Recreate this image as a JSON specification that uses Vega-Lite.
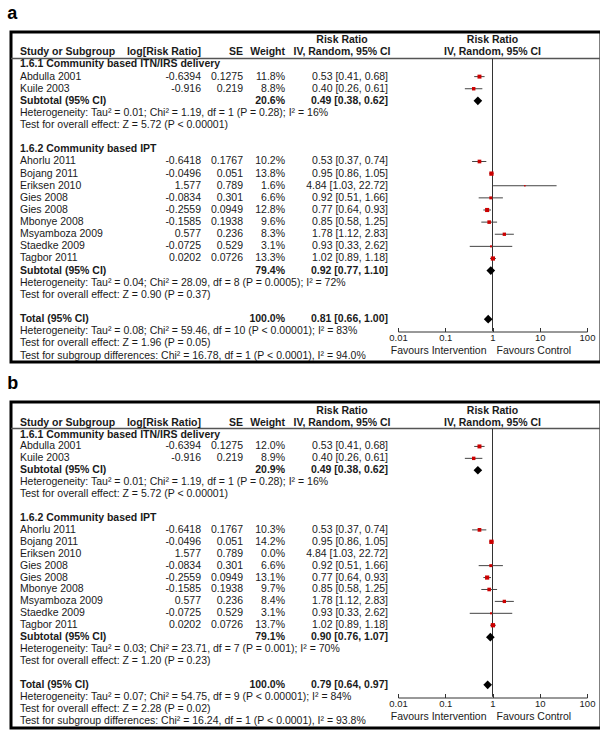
{
  "$schema": "https://vega.github.io/schema/vega-lite/v6.json",
  "padding": {"left": 5, "top": 3, "right": 3, "bottom": 0},
  "background": "white",
  "config": {
    "view": {"stroke": "black", "strokeWidth": 3},
    "text": {"font": "Liberation Sans", "fontSize": 10.5, "color": "#1a1a1a", "baseline": "middle"},
    "concat": {"spacing": 9},
    "title": {"font": "Liberation Sans", "fontSize": 18, "fontWeight": "bold", "anchor": "start", "color": "black", "offset": 9, "dx": -3}
  },
  "datasets": {
    "tbl": [
      {"p":"a","r":-1,"c":4,"t":"Risk Ratio","k":"h"},
      {"p":"a","r":-1,"c":6,"t":"Risk Ratio","k":"h"},
      {"p":"a","r":0,"c":0,"t":"Study or Subgroup","k":"h"},
      {"p":"a","r":0,"c":1,"t":"log[Risk Ratio]","k":"h"},
      {"p":"a","r":0,"c":2,"t":"SE","k":"h"},
      {"p":"a","r":0,"c":3,"t":"Weight","k":"h"},
      {"p":"a","r":0,"c":4,"t":"IV, Random, 95% CI","k":"h"},
      {"p":"a","r":0,"c":6,"t":"IV, Random, 95% CI","k":"h"},
      {"p":"a","r":1,"c":0,"t":"1.6.1 Community based ITN/IRS delivery","k":"g"},
      {"p":"a","r":2,"c":0,"t":"Abdulla 2001","k":"s"},
      {"p":"a","r":2,"c":1,"t":"-0.6394","k":"s"},
      {"p":"a","r":2,"c":2,"t":"0.1275","k":"s"},
      {"p":"a","r":2,"c":3,"t":"11.8%","k":"s"},
      {"p":"a","r":2,"c":5,"t":"0.53 [0.41, 0.68]","k":"s"},
      {"p":"a","r":3,"c":0,"t":"Kuile 2003","k":"s"},
      {"p":"a","r":3,"c":1,"t":"-0.916","k":"s"},
      {"p":"a","r":3,"c":2,"t":"0.219","k":"s"},
      {"p":"a","r":3,"c":3,"t":"8.8%","k":"s"},
      {"p":"a","r":3,"c":5,"t":"0.40 [0.26, 0.61]","k":"s"},
      {"p":"a","r":4,"c":0,"t":"Subtotal (95% CI)","k":"u"},
      {"p":"a","r":4,"c":3,"t":"20.6%","k":"u"},
      {"p":"a","r":4,"c":5,"t":"0.49 [0.38, 0.62]","k":"u"},
      {"p":"a","r":5,"c":0,"t":"Heterogeneity: Tau² = 0.01; Chi² = 1.19, df = 1 (P = 0.28); I² = 16%","k":"n"},
      {"p":"a","r":6,"c":0,"t":"Test for overall effect: Z = 5.72 (P < 0.00001)","k":"n"},
      {"p":"a","r":8,"c":0,"t":"1.6.2 Community based IPT","k":"g"},
      {"p":"a","r":9,"c":0,"t":"Ahorlu 2011","k":"s"},
      {"p":"a","r":9,"c":1,"t":"-0.6418","k":"s"},
      {"p":"a","r":9,"c":2,"t":"0.1767","k":"s"},
      {"p":"a","r":9,"c":3,"t":"10.2%","k":"s"},
      {"p":"a","r":9,"c":5,"t":"0.53 [0.37, 0.74]","k":"s"},
      {"p":"a","r":10,"c":0,"t":"Bojang 2011","k":"s"},
      {"p":"a","r":10,"c":1,"t":"-0.0496","k":"s"},
      {"p":"a","r":10,"c":2,"t":"0.051","k":"s"},
      {"p":"a","r":10,"c":3,"t":"13.8%","k":"s"},
      {"p":"a","r":10,"c":5,"t":"0.95 [0.86, 1.05]","k":"s"},
      {"p":"a","r":11,"c":0,"t":"Eriksen 2010","k":"s"},
      {"p":"a","r":11,"c":1,"t":"1.577","k":"s"},
      {"p":"a","r":11,"c":2,"t":"0.789","k":"s"},
      {"p":"a","r":11,"c":3,"t":"1.6%","k":"s"},
      {"p":"a","r":11,"c":5,"t":"4.84 [1.03, 22.72]","k":"s"},
      {"p":"a","r":12,"c":0,"t":"Gies 2008","k":"s"},
      {"p":"a","r":12,"c":1,"t":"-0.0834","k":"s"},
      {"p":"a","r":12,"c":2,"t":"0.301","k":"s"},
      {"p":"a","r":12,"c":3,"t":"6.6%","k":"s"},
      {"p":"a","r":12,"c":5,"t":"0.92 [0.51, 1.66]","k":"s"},
      {"p":"a","r":13,"c":0,"t":"Gies 2008","k":"s"},
      {"p":"a","r":13,"c":1,"t":"-0.2559","k":"s"},
      {"p":"a","r":13,"c":2,"t":"0.0949","k":"s"},
      {"p":"a","r":13,"c":3,"t":"12.8%","k":"s"},
      {"p":"a","r":13,"c":5,"t":"0.77 [0.64, 0.93]","k":"s"},
      {"p":"a","r":14,"c":0,"t":"Mbonye 2008","k":"s"},
      {"p":"a","r":14,"c":1,"t":"-0.1585","k":"s"},
      {"p":"a","r":14,"c":2,"t":"0.1938","k":"s"},
      {"p":"a","r":14,"c":3,"t":"9.6%","k":"s"},
      {"p":"a","r":14,"c":5,"t":"0.85 [0.58, 1.25]","k":"s"},
      {"p":"a","r":15,"c":0,"t":"Msyamboza 2009","k":"s"},
      {"p":"a","r":15,"c":1,"t":"0.577","k":"s"},
      {"p":"a","r":15,"c":2,"t":"0.236","k":"s"},
      {"p":"a","r":15,"c":3,"t":"8.3%","k":"s"},
      {"p":"a","r":15,"c":5,"t":"1.78 [1.12, 2.83]","k":"s"},
      {"p":"a","r":16,"c":0,"t":"Staedke 2009","k":"s"},
      {"p":"a","r":16,"c":1,"t":"-0.0725","k":"s"},
      {"p":"a","r":16,"c":2,"t":"0.529","k":"s"},
      {"p":"a","r":16,"c":3,"t":"3.1%","k":"s"},
      {"p":"a","r":16,"c":5,"t":"0.93 [0.33, 2.62]","k":"s"},
      {"p":"a","r":17,"c":0,"t":"Tagbor 2011","k":"s"},
      {"p":"a","r":17,"c":1,"t":"0.0202","k":"s"},
      {"p":"a","r":17,"c":2,"t":"0.0726","k":"s"},
      {"p":"a","r":17,"c":3,"t":"13.3%","k":"s"},
      {"p":"a","r":17,"c":5,"t":"1.02 [0.89, 1.18]","k":"s"},
      {"p":"a","r":18,"c":0,"t":"Subtotal (95% CI)","k":"u"},
      {"p":"a","r":18,"c":3,"t":"79.4%","k":"u"},
      {"p":"a","r":18,"c":5,"t":"0.92 [0.77, 1.10]","k":"u"},
      {"p":"a","r":19,"c":0,"t":"Heterogeneity: Tau² = 0.04; Chi² = 28.09, df = 8 (P = 0.0005); I² = 72%","k":"n"},
      {"p":"a","r":20,"c":0,"t":"Test for overall effect: Z = 0.90 (P = 0.37)","k":"n"},
      {"p":"a","r":22,"c":0,"t":"Total (95% CI)","k":"u"},
      {"p":"a","r":22,"c":3,"t":"100.0%","k":"u"},
      {"p":"a","r":22,"c":5,"t":"0.81 [0.66, 1.00]","k":"u"},
      {"p":"a","r":23,"c":0,"t":"Heterogeneity: Tau² = 0.08; Chi² = 59.46, df = 10 (P < 0.00001); I² = 83%","k":"n"},
      {"p":"a","r":24,"c":0,"t":"Test for overall effect: Z = 1.96 (P = 0.05)","k":"n"},
      {"p":"a","r":25,"c":0,"t":"Test for subgroup differences: Chi² = 16.78, df = 1 (P < 0.0001), I² = 94.0%","k":"n"},
      {"p":"a","c":7,"t":"Favours Intervention","k":"f"},
      {"p":"a","c":8,"t":"Favours Control","k":"f"},

      {"p":"b","r":-1,"c":4,"t":"Risk Ratio","k":"h"},
      {"p":"b","r":-1,"c":6,"t":"Risk Ratio","k":"h"},
      {"p":"b","r":0,"c":0,"t":"Study or Subgroup","k":"h"},
      {"p":"b","r":0,"c":1,"t":"log[Risk Ratio]","k":"h"},
      {"p":"b","r":0,"c":2,"t":"SE","k":"h"},
      {"p":"b","r":0,"c":3,"t":"Weight","k":"h"},
      {"p":"b","r":0,"c":4,"t":"IV, Random, 95% CI","k":"h"},
      {"p":"b","r":0,"c":6,"t":"IV, Random, 95% CI","k":"h"},
      {"p":"b","r":1,"c":0,"t":"1.6.1 Community based ITN/IRS delivery","k":"g"},
      {"p":"b","r":2,"c":0,"t":"Abdulla 2001","k":"s"},
      {"p":"b","r":2,"c":1,"t":"-0.6394","k":"s"},
      {"p":"b","r":2,"c":2,"t":"0.1275","k":"s"},
      {"p":"b","r":2,"c":3,"t":"12.0%","k":"s"},
      {"p":"b","r":2,"c":5,"t":"0.53 [0.41, 0.68]","k":"s"},
      {"p":"b","r":3,"c":0,"t":"Kuile 2003","k":"s"},
      {"p":"b","r":3,"c":1,"t":"-0.916","k":"s"},
      {"p":"b","r":3,"c":2,"t":"0.219","k":"s"},
      {"p":"b","r":3,"c":3,"t":"8.9%","k":"s"},
      {"p":"b","r":3,"c":5,"t":"0.40 [0.26, 0.61]","k":"s"},
      {"p":"b","r":4,"c":0,"t":"Subtotal (95% CI)","k":"u"},
      {"p":"b","r":4,"c":3,"t":"20.9%","k":"u"},
      {"p":"b","r":4,"c":5,"t":"0.49 [0.38, 0.62]","k":"u"},
      {"p":"b","r":5,"c":0,"t":"Heterogeneity: Tau² = 0.01; Chi² = 1.19, df = 1 (P = 0.28); I² = 16%","k":"n"},
      {"p":"b","r":6,"c":0,"t":"Test for overall effect: Z = 5.72 (P < 0.00001)","k":"n"},
      {"p":"b","r":8,"c":0,"t":"1.6.2 Community based IPT","k":"g"},
      {"p":"b","r":9,"c":0,"t":"Ahorlu 2011","k":"s"},
      {"p":"b","r":9,"c":1,"t":"-0.6418","k":"s"},
      {"p":"b","r":9,"c":2,"t":"0.1767","k":"s"},
      {"p":"b","r":9,"c":3,"t":"10.3%","k":"s"},
      {"p":"b","r":9,"c":5,"t":"0.53 [0.37, 0.74]","k":"s"},
      {"p":"b","r":10,"c":0,"t":"Bojang 2011","k":"s"},
      {"p":"b","r":10,"c":1,"t":"-0.0496","k":"s"},
      {"p":"b","r":10,"c":2,"t":"0.051","k":"s"},
      {"p":"b","r":10,"c":3,"t":"14.2%","k":"s"},
      {"p":"b","r":10,"c":5,"t":"0.95 [0.86, 1.05]","k":"s"},
      {"p":"b","r":11,"c":0,"t":"Eriksen 2010","k":"s"},
      {"p":"b","r":11,"c":1,"t":"1.577","k":"s"},
      {"p":"b","r":11,"c":2,"t":"0.789","k":"s"},
      {"p":"b","r":11,"c":3,"t":"0.0%","k":"s"},
      {"p":"b","r":11,"c":5,"t":"4.84 [1.03, 22.72]","k":"s"},
      {"p":"b","r":12,"c":0,"t":"Gies 2008","k":"s"},
      {"p":"b","r":12,"c":1,"t":"-0.0834","k":"s"},
      {"p":"b","r":12,"c":2,"t":"0.301","k":"s"},
      {"p":"b","r":12,"c":3,"t":"6.6%","k":"s"},
      {"p":"b","r":12,"c":5,"t":"0.92 [0.51, 1.66]","k":"s"},
      {"p":"b","r":13,"c":0,"t":"Gies 2008","k":"s"},
      {"p":"b","r":13,"c":1,"t":"-0.2559","k":"s"},
      {"p":"b","r":13,"c":2,"t":"0.0949","k":"s"},
      {"p":"b","r":13,"c":3,"t":"13.1%","k":"s"},
      {"p":"b","r":13,"c":5,"t":"0.77 [0.64, 0.93]","k":"s"},
      {"p":"b","r":14,"c":0,"t":"Mbonye 2008","k":"s"},
      {"p":"b","r":14,"c":1,"t":"-0.1585","k":"s"},
      {"p":"b","r":14,"c":2,"t":"0.1938","k":"s"},
      {"p":"b","r":14,"c":3,"t":"9.7%","k":"s"},
      {"p":"b","r":14,"c":5,"t":"0.85 [0.58, 1.25]","k":"s"},
      {"p":"b","r":15,"c":0,"t":"Msyamboza 2009","k":"s"},
      {"p":"b","r":15,"c":1,"t":"0.577","k":"s"},
      {"p":"b","r":15,"c":2,"t":"0.236","k":"s"},
      {"p":"b","r":15,"c":3,"t":"8.4%","k":"s"},
      {"p":"b","r":15,"c":5,"t":"1.78 [1.12, 2.83]","k":"s"},
      {"p":"b","r":16,"c":0,"t":"Staedke 2009","k":"s"},
      {"p":"b","r":16,"c":1,"t":"-0.0725","k":"s"},
      {"p":"b","r":16,"c":2,"t":"0.529","k":"s"},
      {"p":"b","r":16,"c":3,"t":"3.1%","k":"s"},
      {"p":"b","r":16,"c":5,"t":"0.93 [0.33, 2.62]","k":"s"},
      {"p":"b","r":17,"c":0,"t":"Tagbor 2011","k":"s"},
      {"p":"b","r":17,"c":1,"t":"0.0202","k":"s"},
      {"p":"b","r":17,"c":2,"t":"0.0726","k":"s"},
      {"p":"b","r":17,"c":3,"t":"13.7%","k":"s"},
      {"p":"b","r":17,"c":5,"t":"1.02 [0.89, 1.18]","k":"s"},
      {"p":"b","r":18,"c":0,"t":"Subtotal (95% CI)","k":"u"},
      {"p":"b","r":18,"c":3,"t":"79.1%","k":"u"},
      {"p":"b","r":18,"c":5,"t":"0.90 [0.76, 1.07]","k":"u"},
      {"p":"b","r":19,"c":0,"t":"Heterogeneity: Tau² = 0.03; Chi² = 23.71, df = 7 (P = 0.001); I² = 70%","k":"n"},
      {"p":"b","r":20,"c":0,"t":"Test for overall effect: Z = 1.20 (P = 0.23)","k":"n"},
      {"p":"b","r":22,"c":0,"t":"Total (95% CI)","k":"u"},
      {"p":"b","r":22,"c":3,"t":"100.0%","k":"u"},
      {"p":"b","r":22,"c":5,"t":"0.79 [0.64, 0.97]","k":"u"},
      {"p":"b","r":23,"c":0,"t":"Heterogeneity: Tau² = 0.07; Chi² = 54.75, df = 9 (P < 0.00001); I² = 84%","k":"n"},
      {"p":"b","r":24,"c":0,"t":"Test for overall effect: Z = 2.28 (P = 0.02)","k":"n"},
      {"p":"b","r":25,"c":0,"t":"Test for subgroup differences: Chi² = 16.24, df = 1 (P < 0.0001), I² = 93.8%","k":"n"},
      {"p":"b","c":7,"t":"Favours Intervention","k":"f"},
      {"p":"b","c":8,"t":"Favours Control","k":"f"}
    ],
    "fp": [
      {"p":"a","r":2,"est":0.53,"lo":0.41,"hi":0.68,"w":11.8,"k":"s"},
      {"p":"a","r":3,"est":0.40,"lo":0.26,"hi":0.61,"w":8.8,"k":"s"},
      {"p":"a","r":4,"est":0.49,"lo":0.38,"hi":0.62,"w":20.6,"k":"d"},
      {"p":"a","r":9,"est":0.53,"lo":0.37,"hi":0.74,"w":10.2,"k":"s"},
      {"p":"a","r":10,"est":0.95,"lo":0.86,"hi":1.05,"w":13.8,"k":"s"},
      {"p":"a","r":11,"est":4.84,"lo":1.03,"hi":22.72,"w":1.6,"k":"s"},
      {"p":"a","r":12,"est":0.92,"lo":0.51,"hi":1.66,"w":6.6,"k":"s"},
      {"p":"a","r":13,"est":0.77,"lo":0.64,"hi":0.93,"w":12.8,"k":"s"},
      {"p":"a","r":14,"est":0.85,"lo":0.58,"hi":1.25,"w":9.6,"k":"s"},
      {"p":"a","r":15,"est":1.78,"lo":1.12,"hi":2.83,"w":8.3,"k":"s"},
      {"p":"a","r":16,"est":0.93,"lo":0.33,"hi":2.62,"w":3.1,"k":"s"},
      {"p":"a","r":17,"est":1.02,"lo":0.89,"hi":1.18,"w":13.3,"k":"s"},
      {"p":"a","r":18,"est":0.92,"lo":0.77,"hi":1.10,"w":79.4,"k":"d"},
      {"p":"a","r":22,"est":0.81,"lo":0.66,"hi":1.00,"w":100,"k":"d"},
      {"p":"b","r":2,"est":0.53,"lo":0.41,"hi":0.68,"w":12.0,"k":"s"},
      {"p":"b","r":3,"est":0.40,"lo":0.26,"hi":0.61,"w":8.9,"k":"s"},
      {"p":"b","r":4,"est":0.49,"lo":0.38,"hi":0.62,"w":20.9,"k":"d"},
      {"p":"b","r":9,"est":0.53,"lo":0.37,"hi":0.74,"w":10.3,"k":"s"},
      {"p":"b","r":10,"est":0.95,"lo":0.86,"hi":1.05,"w":14.2,"k":"s"},
      {"p":"b","r":12,"est":0.92,"lo":0.51,"hi":1.66,"w":6.6,"k":"s"},
      {"p":"b","r":13,"est":0.77,"lo":0.64,"hi":0.93,"w":13.1,"k":"s"},
      {"p":"b","r":14,"est":0.85,"lo":0.58,"hi":1.25,"w":9.7,"k":"s"},
      {"p":"b","r":15,"est":1.78,"lo":1.12,"hi":2.83,"w":8.4,"k":"s"},
      {"p":"b","r":16,"est":0.93,"lo":0.33,"hi":2.62,"w":3.1,"k":"s"},
      {"p":"b","r":17,"est":1.02,"lo":0.89,"hi":1.18,"w":13.7,"k":"s"},
      {"p":"b","r":18,"est":0.90,"lo":0.76,"hi":1.07,"w":79.1,"k":"d"},
      {"p":"b","r":22,"est":0.79,"lo":0.64,"hi":0.97,"w":100,"k":"d"}
    ]
  },
  "vconcat": [
    {
      "title": {"text": "a"},
      "width": 590,
      "height": 330,
      "resolve": {"scale": {"x": "independent"}},
      "layer": [
        {"data": {"values": [{}]}, "mark": {"type": "rule", "color": "#555", "strokeWidth": 1.5}, "encoding": {"y": {"datum": 0.5, "type": "quantitative", "scale": {"domain": [-1.68, 25.536], "reverse": true, "nice": false, "zero": false}, "axis": null}}},
        {
          "data": {"name": "tbl"},
          "transform": [{"filter": "datum.p == 'a' && datum.c <= 5"}],
          "encoding": {"x": {"field": "c", "type": "quantitative", "scale": {"domain": [0,1,2,3,4,5], "range": [9,190,232,274,331,377], "nice": false, "zero": false}, "axis": null}, "y": {"field": "r", "type": "quantitative"}, "text": {"field": "t"}},
          "layer": [
            {"transform": [{"filter": "datum.c == 0 && (datum.k == 's' || datum.k == 'n')"}], "mark": {"type": "text", "align": "left"}},
            {"transform": [{"filter": "datum.c == 0 && (datum.k == 'h' || datum.k == 'g' || datum.k == 'u')"}], "mark": {"type": "text", "align": "left", "fontWeight": "bold"}},
            {"transform": [{"filter": "datum.c == 4"}], "mark": {"type": "text", "align": "center", "fontWeight": "bold"}},
            {"transform": [{"filter": "datum.c != 0 && datum.c != 4 && datum.k == 's'"}], "mark": {"type": "text", "align": "right"}},
            {"transform": [{"filter": "datum.c != 0 && datum.c != 4 && datum.k != 's'"}], "mark": {"type": "text", "align": "right", "fontWeight": "bold"}}
          ]
        },
        {
          "layer": [
            {"data": {"values": [{}]}, "mark": {"type": "rule", "color": "#333", "strokeWidth": 1}, "encoding": {"x": {"datum": 1, "type": "quantitative", "scale": {"type": "log", "domain": [0.01, 100], "range": [387, 576], "nice": false}, "axis": {"values": [0.01,0.1,1,10,100], "format": "~g", "title": null, "grid": false, "offset": -30.5, "tickSize": -4, "labelPadding": 5, "domainColor": "#333", "tickColor": "#333", "labelColor": "#1a1a1a", "labelFont": "Liberation Sans", "labelFontSize": 9.5, "labelFlush": false, "labelOverlap": false}}, "y": {"datum": 0.5, "type": "quantitative"}, "y2": {"datum": 23}}},
            {"data": {"name": "fp"}, "transform": [{"filter": "datum.p == 'a' && datum.k == 's'"}], "mark": {"type": "rule", "color": "#444", "strokeWidth": 1}, "encoding": {"x": {"field": "lo", "type": "quantitative"}, "x2": {"field": "hi"}, "y": {"field": "r", "type": "quantitative"}}},
            {"data": {"name": "fp"}, "transform": [{"filter": "datum.p == 'a' && datum.k == 's'"}], "mark": {"type": "point", "shape": "square", "filled": true, "color": "#cc0000", "opacity": 1, "strokeWidth": 0}, "encoding": {"x": {"field": "est", "type": "quantitative"}, "y": {"field": "r", "type": "quantitative"}, "size": {"field": "w", "type": "quantitative", "scale": {"domain": [0, 15], "range": [0, 20]}, "legend": null}}},
            {"data": {"name": "fp"}, "transform": [{"filter": "datum.p == 'a' && datum.k == 'd'"}], "mark": {"type": "point", "shape": "diamond", "filled": true, "color": "black", "opacity": 1, "size": 75}, "encoding": {"x": {"field": "est", "type": "quantitative"}, "y": {"field": "r", "type": "quantitative"}}},
            {"data": {"name": "tbl"}, "transform": [{"filter": "datum.p == 'a' && datum.c == 6"}], "mark": {"type": "text", "align": "center", "fontWeight": "bold"}, "encoding": {"x": {"datum": 1, "type": "quantitative"}, "y": {"field": "r", "type": "quantitative"}, "text": {"field": "t"}}},
            {"data": {"name": "tbl"}, "transform": [{"filter": "datum.p == 'a' && datum.c == 7"}], "mark": {"type": "text", "align": "right", "dx": -6}, "encoding": {"x": {"datum": 1, "type": "quantitative"}, "y": {"datum": 24.65, "type": "quantitative"}, "text": {"field": "t"}}},
            {"data": {"name": "tbl"}, "transform": [{"filter": "datum.p == 'a' && datum.c == 8"}], "mark": {"type": "text", "align": "left", "dx": 4}, "encoding": {"x": {"datum": 1, "type": "quantitative"}, "y": {"datum": 24.65, "type": "quantitative"}, "text": {"field": "t"}}}
          ]
        }
      ]
    },
    {
      "title": {"text": "b"},
      "width": 590,
      "height": 326,
      "resolve": {"scale": {"x": "independent"}},
      "layer": [
        {"data": {"values": [{}]}, "mark": {"type": "rule", "color": "#555", "strokeWidth": 1.5}, "encoding": {"y": {"datum": 0.5, "type": "quantitative", "scale": {"domain": [-1.727, 25.62], "reverse": true, "nice": false, "zero": false}, "axis": null}}},
        {
          "data": {"name": "tbl"},
          "transform": [{"filter": "datum.p == 'b' && datum.c <= 5"}],
          "encoding": {"x": {"field": "c", "type": "quantitative", "scale": {"domain": [0,1,2,3,4,5], "range": [9,190,232,274,331,377], "nice": false, "zero": false}, "axis": null}, "y": {"field": "r", "type": "quantitative"}, "text": {"field": "t"}},
          "layer": [
            {"transform": [{"filter": "datum.c == 0 && (datum.k == 's' || datum.k == 'n')"}], "mark": {"type": "text", "align": "left"}},
            {"transform": [{"filter": "datum.c == 0 && (datum.k == 'h' || datum.k == 'g' || datum.k == 'u')"}], "mark": {"type": "text", "align": "left", "fontWeight": "bold"}},
            {"transform": [{"filter": "datum.c == 4"}], "mark": {"type": "text", "align": "center", "fontWeight": "bold"}},
            {"transform": [{"filter": "datum.c != 0 && datum.c != 4 && datum.k == 's'"}], "mark": {"type": "text", "align": "right"}},
            {"transform": [{"filter": "datum.c != 0 && datum.c != 4 && datum.k != 's'"}], "mark": {"type": "text", "align": "right", "fontWeight": "bold"}}
          ]
        },
        {
          "layer": [
            {"data": {"values": [{}]}, "mark": {"type": "rule", "color": "#333", "strokeWidth": 1}, "encoding": {"x": {"datum": 1, "type": "quantitative", "scale": {"type": "log", "domain": [0.01, 100], "range": [387, 576], "nice": false}, "axis": {"values": [0.01,0.1,1,10,100], "format": "~g", "title": null, "grid": false, "offset": -30.5, "tickSize": -4, "labelPadding": 5, "domainColor": "#333", "tickColor": "#333", "labelColor": "#1a1a1a", "labelFont": "Liberation Sans", "labelFontSize": 9.5, "labelFlush": false, "labelOverlap": false}}, "y": {"datum": 0.5, "type": "quantitative"}, "y2": {"datum": 23}}},
            {"data": {"name": "fp"}, "transform": [{"filter": "datum.p == 'b' && datum.k == 's'"}], "mark": {"type": "rule", "color": "#444", "strokeWidth": 1}, "encoding": {"x": {"field": "lo", "type": "quantitative"}, "x2": {"field": "hi"}, "y": {"field": "r", "type": "quantitative"}}},
            {"data": {"name": "fp"}, "transform": [{"filter": "datum.p == 'b' && datum.k == 's'"}], "mark": {"type": "point", "shape": "square", "filled": true, "color": "#cc0000", "opacity": 1, "strokeWidth": 0}, "encoding": {"x": {"field": "est", "type": "quantitative"}, "y": {"field": "r", "type": "quantitative"}, "size": {"field": "w", "type": "quantitative", "scale": {"domain": [0, 15], "range": [0, 20]}, "legend": null}}},
            {"data": {"name": "fp"}, "transform": [{"filter": "datum.p == 'b' && datum.k == 'd'"}], "mark": {"type": "point", "shape": "diamond", "filled": true, "color": "black", "opacity": 1, "size": 75}, "encoding": {"x": {"field": "est", "type": "quantitative"}, "y": {"field": "r", "type": "quantitative"}}},
            {"data": {"name": "tbl"}, "transform": [{"filter": "datum.p == 'b' && datum.c == 6"}], "mark": {"type": "text", "align": "center", "fontWeight": "bold"}, "encoding": {"x": {"datum": 1, "type": "quantitative"}, "y": {"field": "r", "type": "quantitative"}, "text": {"field": "t"}}},
            {"data": {"name": "tbl"}, "transform": [{"filter": "datum.p == 'b' && datum.c == 7"}], "mark": {"type": "text", "align": "right", "dx": -6}, "encoding": {"x": {"datum": 1, "type": "quantitative"}, "y": {"datum": 24.7, "type": "quantitative"}, "text": {"field": "t"}}},
            {"data": {"name": "tbl"}, "transform": [{"filter": "datum.p == 'b' && datum.c == 8"}], "mark": {"type": "text", "align": "left", "dx": 4}, "encoding": {"x": {"datum": 1, "type": "quantitative"}, "y": {"datum": 24.7, "type": "quantitative"}, "text": {"field": "t"}}}
          ]
        }
      ]
    }
  ]
}
